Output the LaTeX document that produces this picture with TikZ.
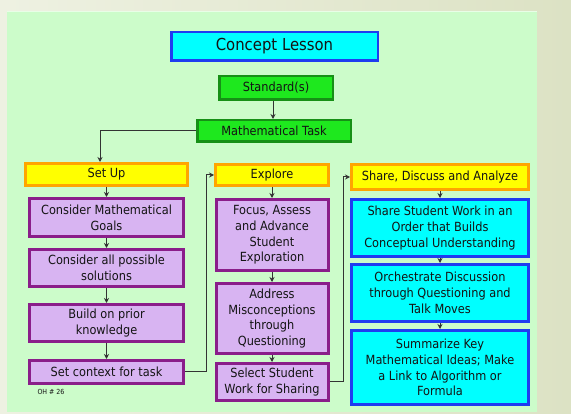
\documentclass[tikz,border=0pt]{standalone}
\usepackage{fontspec}
\setmainfont{DejaVu Sans}[FakeStretch=0.9]
\usetikzlibrary{arrows.meta}
\definecolor{bgL}{HTML}{EEF1E2}
\definecolor{bgR}{HTML}{DCE2C4}
\definecolor{panel}{HTML}{CCFCCA}
\definecolor{lav}{HTML}{D8B4F2}
\definecolor{purp}{HTML}{8A1E8A}
\definecolor{cyanf}{HTML}{00FFFF}
\definecolor{blueb}{HTML}{1F3CF0}
\definecolor{greenf}{HTML}{1EE81E}
\definecolor{greenb}{HTML}{169016}
\definecolor{yel}{HTML}{FFFF00}
\definecolor{orng}{HTML}{FFA500}
\definecolor{txt}{HTML}{141414}
\definecolor{lnc}{HTML}{333333}
\begin{document}
\begin{tikzpicture}[x=1pt,y=-1pt,
  font=\fontsize{12.6}{15.7}\selectfont,
  every node/.style={text=txt},
  basebox/.style={line width=3pt, align=center, inner sep=0pt},
  pbox/.style={basebox, draw=purp, fill=lav},
  bbox/.style={basebox, draw=blueb, fill=cyanf},
  gbox/.style={basebox, draw=greenb, fill=greenf, line width=2.5pt},
  ybox/.style={basebox, draw=orng, fill=yel},
  arr/.style={draw=lnc, line width=1pt, -{Stealth[length=5pt,width=5pt]}}]
\useasboundingbox (0,0) rectangle (571,414);
\fill[left color=bgL, right color=bgR] (0,0) rectangle (571,414);
\fill[panel] (7,11) rectangle (537,412);
\draw[white!55!panel, line width=1.5pt] (7,11.75) -- (537,11.75);

% top
\node[bbox, line width=2.5pt, minimum width=206.5pt, minimum height=28.5pt, font=\fontsize{16.5}{18}\selectfont] (concept) at (274.5,46.5) {Concept Lesson};
\node[gbox, minimum width=113.5pt, minimum height=23.5pt] (standard) at (276,88) {Standard(s)};
\node[gbox, minimum width=153.5pt, minimum height=21.5pt] (task) at (274,131) {Mathematical Task};

% column 1
\node[ybox, minimum width=162pt, minimum height=22pt] (setup) at (106.5,174.5) {Set Up};
\node[pbox, minimum width=154pt, minimum height=38pt] (cmg) at (106.5,217.5) {Consider Mathematical\\Goals};
\node[pbox, minimum width=154pt, minimum height=37pt] (caps) at (106.5,268) {Consider all possible\\solutions};
\node[pbox, minimum width=154pt, minimum height=37pt] (bpk) at (106.5,323) {Build on prior\\knowledge};
\node[pbox, minimum width=154pt, minimum height=23pt] (sct) at (106.5,372) {Set context for task};
\node[font=\fontsize{7}{8}\selectfont, inner sep=0pt] (oh) at (51,392) {OH \# 26};

% column 2
\node[ybox, minimum width=113pt, minimum height=21pt] (explore) at (272,175) {Explore};
\node[pbox, minimum width=112pt, minimum height=71pt] (focus) at (272,235) {Focus, Assess\\and Advance\\Student\\Exploration};
\node[pbox, minimum width=112pt, minimum height=70pt] (address) at (272,318.5) {Address\\Misconceptions\\through\\Questioning};
\node[pbox, minimum width=112pt, minimum height=37pt] (select) at (272,382) {Select Student\\Work for Sharing};

% column 3
\node[ybox, minimum width=177pt, minimum height=25pt] (share) at (440,177) {Share, Discuss and Analyze};
\node[bbox, minimum width=177pt, minimum height=57pt] (ssw) at (440,228) {Share Student Work in an\\Order that Builds\\Conceptual Understanding};
\node[bbox, minimum width=177pt, minimum height=57pt] (orch) at (440,293) {Orchestrate Discussion\\through Questioning and\\Talk Moves};
\node[bbox, minimum width=177pt, minimum height=74pt] (summ) at (440,367.5) {Summarize Key\\Mathematical Ideas; Make\\a Link to Algorithm or\\Formula};

% connectors
\coordinate (c0) at (100,0);
\coordinate (c1) at (206,0);
\coordinate (c2) at (343,0);
\coordinate (c3) at (273,0);
\draw[arr] (c3 |- standard.south) -- (c3 |- task.north);
\draw[arr] (task.west) -| (c0 |- setup.north);
\draw[arr] (setup) -- (cmg);
\draw[arr] (cmg) -- (caps);
\draw[arr] (caps) -- (bpk);
\draw[arr] (bpk) -- (sct);
\draw[arr] (sct.east) -- (sct.east -| c1) |- (explore.west);
\draw[arr] (explore) -- (focus);
\draw[arr] (focus) -- (address);
\draw[arr] (address) -- (select);
\draw[arr] (select.east) -- (select.east -| c2) |- (share.west);
\draw[arr] (share) -- (ssw);
\draw[arr] (ssw) -- (orch);
\draw[arr] (orch) -- (summ);
\end{tikzpicture}
\end{document}
